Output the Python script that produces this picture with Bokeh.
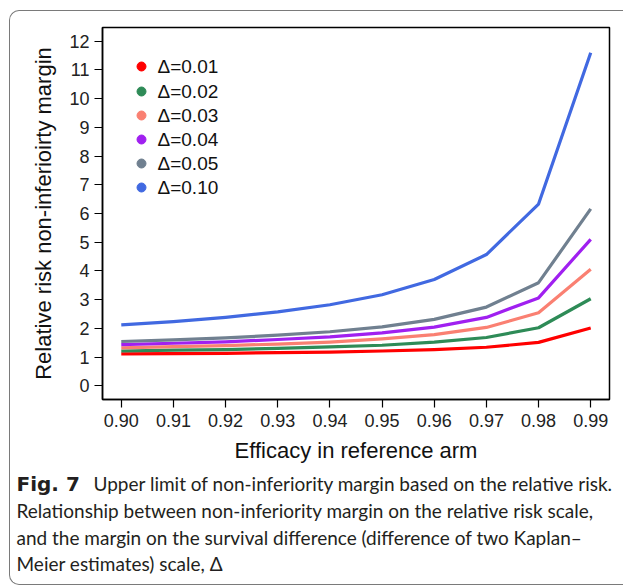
from bokeh.plotting import figure
from bokeh.models import Range1d, FixedTicker, Label, InlineStyleSheet
from bokeh.layouts import column
from bokeh.core.properties import value
from bokeh.embed import file_html
from bokeh.resources import INLINE

efficacy = [0.90, 0.91, 0.92, 0.93, 0.94, 0.95, 0.96, 0.97, 0.98, 0.99]
tick_labels = ["0.90", "0.91", "0.92", "0.93", "0.94", "0.95", "0.96", "0.97", "0.98", "0.99"]
y_ticks = list(range(0, 13))

rr_d001 = [1.11, 1.12, 1.13, 1.15, 1.17, 1.21, 1.26, 1.34, 1.51, 2.01]
rr_d002 = [1.21, 1.24, 1.26, 1.30, 1.35, 1.41, 1.52, 1.68, 2.02, 3.03]
rr_d003 = [1.32, 1.36, 1.40, 1.45, 1.52, 1.63, 1.78, 2.03, 2.54, 4.06]
rr_d004 = [1.43, 1.48, 1.53, 1.61, 1.70, 1.84, 2.04, 2.38, 3.06, 5.10]
rr_d005 = [1.54, 1.60, 1.67, 1.76, 1.88, 2.05, 2.31, 2.74, 3.59, 6.16]
rr_d010 = [2.12, 2.23, 2.38, 2.57, 2.82, 3.17, 3.70, 4.57, 6.33, 11.60]

series_names = ["\u0394=0.01", "\u0394=0.02", "\u0394=0.03", "\u0394=0.04", "\u0394=0.05", "\u0394=0.10"]
series_values = [rr_d001, rr_d002, rr_d003, rr_d004, rr_d005, rr_d010]
series_colors = ["#FF0000", "#2E8B57", "#FA8072", "#A020F0", "#708090", "#4169E1"]

caption_bold = "Fig. 7"
caption_first = "Upper limit of non-inferiority margin based on the relative risk."
caption_lines = [
    "Relationship between non-inferiority margin on the relative risk scale,",
    "and the margin on the survival difference (difference of two Kaplan\u2013",
    "Meier estimates) scale, \u0394",
]

W, H = 623, 586
H1 = 468
FL, FR, FT, FB = 102, 609, 27, 399
X0, X1 = 0.8964, 0.9936
Y0, Y1 = -0.48, 12.48

p = figure(width=W, height=H1, output_backend="svg", toolbar_location=None,
           x_range=Range1d(X0, X1), y_range=Range1d(Y0, Y1),
           min_border_left=FL, min_border_right=W - FR,
           min_border_top=FT, min_border_bottom=H1 - FB)
p.frame_align = False
p.background_fill_color = "white"
p.border_fill_color = "white"
p.grid.visible = False
p.outline_line_color = "black"
p.outline_line_width = 1.5

sx = (FR - FL) / (X1 - X0)
sy = (FB - FT) / (Y1 - Y0)
def dx(px):
    return X0 + (px - FL) / sx
def dy(py):
    return Y1 - (py - FT) / sy

xa = p.xaxis[0]
xa.ticker = FixedTicker(ticks=efficacy)
xa.major_label_overrides = {t: l for t, l in zip(efficacy, tick_labels)}
ya = p.yaxis[0]
ya.ticker = FixedTicker(ticks=y_ticks)
for ax in (xa, ya):
    ax.axis_line_color = "black"
    ax.axis_line_width = 1.5
    ax.major_tick_line_color = "black"
    ax.major_tick_line_width = 1.2
    ax.major_tick_in = 0
    ax.major_tick_out = 8
    ax.minor_tick_line_color = None
    ax.major_label_text_font = "Liberation Sans"
    ax.major_label_text_font_size = "18px"
    ax.major_label_text_color = "#222222"
    ax.axis_label_text_font = "Liberation Sans"
    ax.axis_label_text_font_size = "22px"
    ax.axis_label_text_font_style = "normal"
    ax.axis_label_text_color = "#111111"
xa.major_label_standoff = 6
ya.major_label_standoff = 5
xa.axis_label = "Efficacy in reference arm"
xa.axis_label_standoff = 8
ya.axis_label = "Relative risk non-inferioirty margin"
ya.axis_label_standoff = 10

for vals, col in zip(series_values, series_colors):
    p.line(efficacy, vals, line_color=col, line_width=3.2, line_join="round")

leg_rows = [66, 91, 115, 139, 163, 187]
for name, col, ry in zip(series_names, series_colors, leg_rows):
    p.scatter([dx(141)], [dy(ry)], marker="circle", size=9, fill_color=col, line_color=col)
    p.add_layout(Label(x=dx(157), y=dy(ry), text=name, text_font="Liberation Sans",
                       text_font_size="19px", text_color="#111111", text_baseline="middle"))

# caption panel
c = figure(width=W, height=H - H1, output_backend="svg", toolbar_location=None,
           x_range=Range1d(0, W), y_range=Range1d(H, H1),
           min_border_left=0, min_border_right=0, min_border_top=0, min_border_bottom=0)
c.frame_align = False
c.axis.visible = False
c.grid.visible = False
c.outline_line_color = None
c.background_fill_color = "white"
c.border_fill_color = "white"

cap_color = "#231F20"
c.text([16], [483], text=[caption_bold], text_font=value("DejaVu Sans"), text_font_size="20px",
       text_font_style="bold", text_color=cap_color, text_baseline="middle")
c.text([93], [483], text=[caption_first], text_font=value("Lato"), text_font_size="19px",
       text_color=cap_color, text_baseline="middle")
c.text([16, 16, 16], [510, 537, 563], text=caption_lines, text_font=value("Lato"),
       text_font_size="19px", text_color=cap_color, text_baseline="middle")

frame_css = InlineStyleSheet(css="""
:host { position: relative; }
:host::after {
  content: "";
  position: absolute;
  left: 9px; top: 10px; width: 614px; height: 575px;
  box-sizing: border-box;
  border: 1.3px solid #7a7a7a; border-right: none;
  border-radius: 10px 0 0 10px;
  pointer-events: none; z-index: 10;
}
""")

layout = column(p, c, spacing=0, stylesheets=[frame_css])
open("out.html", "w").write(file_html(layout, INLINE))
